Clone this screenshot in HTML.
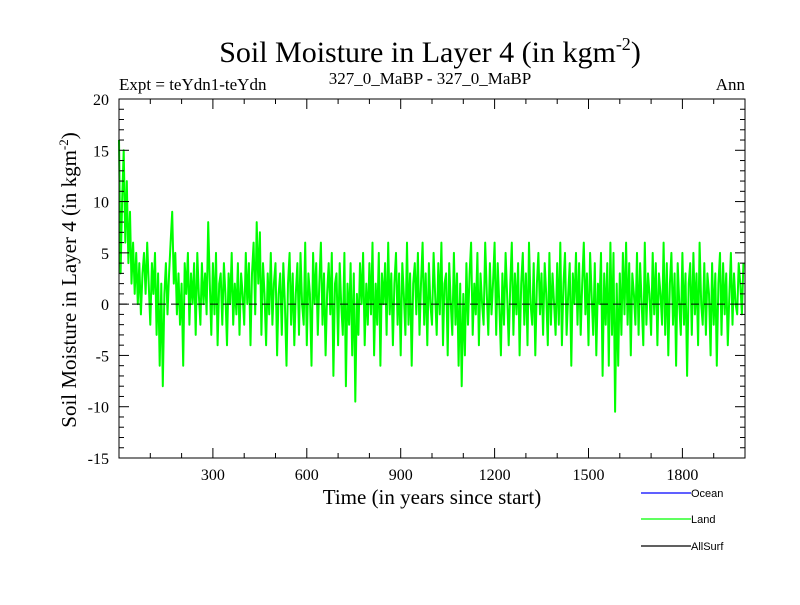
<!DOCTYPE html>
<html><head><meta charset="utf-8"><style>
body{margin:0;background:#fff}
svg text{font-family:"Liberation Serif",serif;fill:#000}
</style></head><body>
<svg id="c" width="800" height="600" xmlns="http://www.w3.org/2000/svg">
<text x="430" y="62" font-size="30" text-anchor="middle">Soil Moisture in Layer 4 (in kgm<tspan font-size="18" dy="-12">-2</tspan><tspan dy="12">)</tspan></text>
<text x="119" y="90" font-size="17">Expt = teYdn1-teYdn</text>
<text x="430" y="84" font-size="17" text-anchor="middle">327_0_MaBP - 327_0_MaBP</text>
<text x="745" y="90" font-size="17" text-anchor="end">Ann</text>
<text transform="translate(76,280) rotate(-90)" font-size="21" text-anchor="middle">Soil Moisture in Layer 4 (in kgm<tspan font-size="13" dy="-8">-2</tspan><tspan dy="8">)</tspan></text>
<text x="432" y="504" font-size="21" text-anchor="middle">Time (in years since start)</text>
<g id="plot"></g>
<g>
<line x1="641" y1="493" x2="691" y2="493" stroke="#0000ff" stroke-width="1.2"/>
<text x="691" y="497" font-size="11" style="font-family:'Liberation Sans',sans-serif">Ocean</text>
<line x1="641" y1="519" x2="691" y2="519" stroke="#00ff00" stroke-width="1.2"/>
<text x="691" y="523" font-size="11" style="font-family:'Liberation Sans',sans-serif">Land</text>
<line x1="641" y1="546" x2="691" y2="546" stroke="#000" stroke-width="1.2"/>
<text x="691" y="550" font-size="11" style="font-family:'Liberation Sans',sans-serif">AllSurf</text>
</g>
</svg>
<script>
const yTicks=[-15,-10,-5,0,5,10,15,20];
const xTicks=[300,600,900,1200,1500,1800];
const landStep=5;
const landValues=[16,3,10,15,6,12,4,9,2,6,1,5,0,4,-1,3,5,1,6,2,
-2,4,1,5,-3,3,-6,2,-8,1,4,-1,3,6,9,2,5,-1,3,-2,
2,-6,4,1,5,-2,3,0,4,-3,5,1,-2,4,0,3,-1,8,2,-3,
4,-1,5,-4,2,3,-2,4,1,-4,3,0,5,-2,2,-1,4,-3,3,1,
-2,5,0,4,-4,3,6,-1,8,2,7,-3,4,1,-4,3,-1,5,-2,2,
4,-5,1,3,-3,4,0,-6,2,5,-2,3,-4,1,4,-3,5,0,-2,6,
-4,3,1,-6,5,0,4,-3,2,6,-2,3,-5,1,4,-1,5,-7,2,3,
-4,4,0,-3,5,-8,2,-2,4,-5,3,-9.5,1,-3,4,0,5,-4,2,-2,
4,-1,6,-5,2,-2,5,-6,3,0,4,-3,6,-1,3,-4,2,5,-2,3,
-5,4,1,-3,6,-2,3,-6,2,4,-1,5,-3,2,6,-2,3,-4,4,0,
-2,5,1,-3,4,-1,6,-4,2,3,-5,4,0,-3,5,-2,3,-6,2,-8,
1,-5,4,-2,3,6,-3,2,-1,5,-4,3,0,-2,6,1,-3,4,-1,2,
6,-3,4,0,-5,3,-2,5,1,-4,2,6,-3,3,-1,4,-5,2,5,-2,
3,-4,6,0,-2,4,-5,2,5,-1,3,-3,4,1,-4,5,-2,3,0,-3,
4,-2,6,-4,2,5,-3,1,4,-6,3,0,5,-2,4,-3,2,6,-1,3,
-4,5,1,-3,4,-5,2,0,5,-7,3,-2,4,-6,6,-3,5,-10.5,2,-6,
3,-3,5,-1,6,-2,4,-5,3,1,-2,5,-3,4,0,-4,6,-2,3,1,
-3,5,-1,4,-4,3,1,-2,6,-3,4,-5,2,5,-2,3,-6,4,0,-3,
5,-2,3,-7,2,4,-3,5,-1,3,-4,6,0,-2,4,-3,3,1,-5,4,
-2,3,-6,2,5,-3,4,-1,3,-4,1,5,-2,3,0,-1,4,2,-1,4];
const L=119,R=745,T=99,B=458,X0=0,X1=2000,Y0=-15,Y1=20;
const sx=v=>L+(v-X0)/(X1-X0)*(R-L);
const sy=v=>B-(v-Y0)/(Y1-Y0)*(B-T);
const NS='http://www.w3.org/2000/svg';
const g=document.getElementById('plot');
function mk(t,a){const e=document.createElementNS(NS,t);for(const k in a)e.setAttribute(k,a[k]);g.appendChild(e);return e;}
let d='';
landValues.forEach((v,i)=>{d+=(i?'L':'M')+sx(i*landStep).toFixed(1)+' '+sy(v).toFixed(1);});
const p=mk('path',{d:d,fill:'none',stroke:'#00ff00','stroke-width':2,'stroke-linejoin':'round'});


const z=mk('line',{x1:L,x2:R,y1:sy(0),y2:sy(0),stroke:'#000','stroke-width':1,'stroke-dasharray':'8 5'});


const f=mk('rect',{x:L,y:T,width:R-L,height:B-T,fill:'none',stroke:'#000','stroke-width':1});


for(let y=Y0+1;y<Y1;y++){const big=y%5===0;const len=big?10:5;
 mk('line',{x1:L,x2:L+len,y1:sy(y),y2:sy(y),stroke:'#000'});
 mk('line',{x1:R,x2:R-len,y1:sy(y),y2:sy(y),stroke:'#000'});}
for(let x=100;x<X1;x+=100){const big=x%300===0;const len=big?10:5;
 mk('line',{x1:sx(x),x2:sx(x),y1:B,y2:B-len,stroke:'#000'});
 mk('line',{x1:sx(x),x2:sx(x),y1:T,y2:T+len,stroke:'#000'});}
yTicks.forEach(v=>{const t=mk('text',{x:L-10,y:sy(v)+6,'font-size':16,'text-anchor':'end'});t.textContent=v;
 
 });
xTicks.forEach(v=>{const t=mk('text',{x:sx(v),y:B+22,'font-size':16,'text-anchor':'middle'});t.textContent=v;
 
 });
</script>
</body></html>
